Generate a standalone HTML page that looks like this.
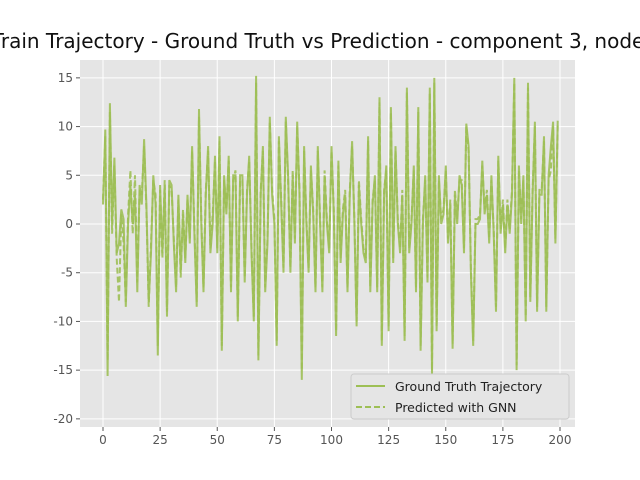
<!DOCTYPE html>
<html><head><meta charset="utf-8"><style>body{margin:0;background:#fff}svg{display:block;font-family:"DejaVu Sans","Liberation Sans",sans-serif}</style></head>
<body>
<svg id="c" width="640" height="480"></svg>
<script>
const xTicks=[0,25,50,75,100,125,150,175,200];
const yTicks=[15,10,5,0,-5,-10,-15,-20];
const truth=[2,9.7,-15.6,12.4,0,6.8,-3,-2,1.5,0.5,-8.5,0,4,0,3,-7,4,2,8.7,2,-8,-3,5,2,-13.5,4,-3,4,-9.5,4.5,4,-2,-7,3,-5,1,-4,3,-2,8,-1,-8.5,11.8,0,-7,3,8,-3,0,7,-3,9,-13,5,1,7,-7,5,5,-10,5,5,-6,3,7,-3,-10,15.2,-14,3,8,-7,-2,11,3,0,-12.5,9,2,-5,11,5,-5,5,-2,10.5,3,-16,8,0,-5,6,1,-7,8,0,-7,5,0,-3,8,1,-11.5,6.5,-4,1,3,-7,3,8.5,0,-10.5,4,0,-3,-4,9,-7,2,5,-7,13,-12.5,3,6,-11,12,-4,8,0,-3,3,-12,14,-3,0,6,-7,12,-13,0,5,-6,14,-15.5,15,-11,5,0,1,6,-2,2,-12.8,3,0,5,4,-3,10.3,8,-5,-12.5,0,0,0.5,6.5,1,3,-2,5,-1,-9,7,-1,2,-3,2,-1,3,15,-15,6,0,5,-10,14.5,-8,3,10.5,-9,3,3,9,-9,5,8,10.5,-2,10.6];
const pred=[2.5,9,-14,11.5,-1,6,-3.5,-8,1,-2,-8,1,5.5,-1,5,-6,3.5,3,8,1.5,-8.5,-2,4.5,3,-12.5,3.5,-3.5,4.5,-9,4,3.5,-1.5,-6.5,2.5,-5.5,1.5,-3.5,2.5,-1.5,7.5,-0.5,-8,11,0.5,-6.5,3.5,7.5,-2.5,1,6.5,-2.5,8.5,-12.5,4.5,1.5,6.5,-6.5,4.5,5.5,-9.5,4.5,4.5,-5.5,3.5,6.5,-2.5,-9.5,14.5,-13.5,3.5,7.5,-6.5,-1.5,10.5,3.5,0.5,-12,8.5,2.5,-4.5,10.5,4.5,-4.5,5.5,-1.5,10,3.5,-15,7.5,0.5,-4.5,5.5,1.5,-6.5,7.5,0.5,-6.5,5.5,0.5,-2.5,7.5,1.5,-11,6,-3.5,1.5,3.5,-6.5,3.5,8,0.5,-10,4.5,0.5,-2.5,-3.5,8.5,-6.5,2.5,4.5,-6.5,12.5,-12,3.5,5.5,-10.5,11.5,-3.5,7.5,0.5,-2.5,3.5,-11.5,13.5,-2.5,0.5,5.5,-6.5,11.5,-12.5,0.5,4.5,-5.5,13.5,-15,14.5,-10.5,4.5,0.5,1.5,5.5,-1.5,2.5,-12.3,3.5,0.5,4.5,4.5,-2.5,10,7.5,-4.5,-12,0.5,0.5,1,6,1.5,3.5,-1.5,4.5,-0.5,-8.5,6.5,-0.5,2.5,-2.5,2.5,-0.5,3.5,14.5,-14.5,5.5,0.5,4.5,-9.5,14,-7.5,3.5,10,-8.5,3.5,3.5,8.5,-8.5,4.5,5.5,10,-1.5,10.2];
const NS='http://www.w3.org/2000/svg';
const svg=document.getElementById('c');
const L=80,R=575,T=60,B=427;
const sx=v=>103+(v/200)*(560-103);
const sy=v=>224-v*(341/35);
function mk(t,a,p){const e=document.createElementNS(NS,t);for(const k in a)e.setAttribute(k,a[k]);(p||svg).appendChild(e);return e;}
let e=mk('rect',{x:L,y:T,width:R-L,height:B-T,fill:'#e5e5e5'});


xTicks.forEach(t=>{const x=sx(t);
 let g=mk('line',{x1:x,x2:x,y1:T,y2:B,stroke:'#fff','stroke-width':1});
 
 
 mk('line',{x1:x,x2:x,y1:B,y2:B+4,stroke:'#555'});
 let l=mk('text',{x:x,y:B+17,'text-anchor':'middle','font-size':12,fill:'#555'});l.textContent=t;
 
 
});
yTicks.forEach(t=>{const y=sy(t);
 let g=mk('line',{x1:L,x2:R,y1:y,y2:y,stroke:'#fff','stroke-width':1});
 
 
 mk('line',{x1:L-4,x2:L,y1:y,y2:y,stroke:'#555'});
 let l=mk('text',{x:L-7,y:y+4,'text-anchor':'end','font-size':12,fill:'#555'});l.textContent=t;
 
 
});
const pts=a=>a.map((v,i)=>sx(i).toFixed(1)+','+sy(v).toFixed(1)).join(' ');
let p1=mk('polyline',{points:pts(pred),fill:'none',stroke:'#9dbf55','stroke-width':2,'stroke-dasharray':'6,3',opacity:0.9});


let p2=mk('polyline',{points:pts(truth),fill:'none',stroke:'#9dbf55','stroke-width':2,opacity:0.9});


let tt=mk('text',{x:327.5,y:48,'text-anchor':'middle','font-size':20,fill:'#111'});
tt.textContent='Train Trajectory - Ground Truth vs Prediction - component 3, node 0';


let lg=mk('g',{});


mk('rect',{x:351,y:374,width:218,height:45,fill:'#e5e5e5',stroke:'#ccc',rx:3},lg);
mk('line',{x1:356,x2:385,y1:386,y2:386,stroke:'#9dbf55','stroke-width':2},lg);
mk('line',{x1:356,x2:385,y1:407,y2:407,stroke:'#9dbf55','stroke-width':2,'stroke-dasharray':'6,3'},lg);
let a=mk('text',{x:395,y:391,'font-size':12.5,fill:'#222'},lg);a.textContent='Ground Truth Trajectory';


let b=mk('text',{x:395,y:412,'font-size':12.5,fill:'#222'},lg);b.textContent='Predicted with GNN';


</script>
</body></html>
